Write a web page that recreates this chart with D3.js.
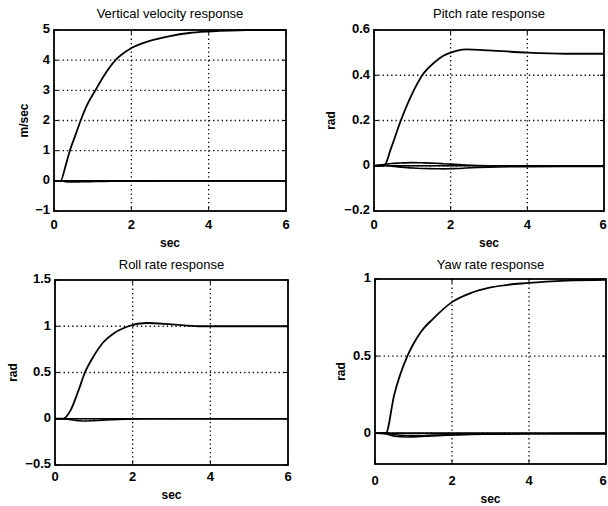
<!DOCTYPE html>
<html>
<head>
<meta charset="utf-8">
<script src="https://cdn.jsdelivr.net/npm/d3@7"></script>
<style>
  body { margin: 0; background: #fff; }
  svg { display: block; font-family: "Liberation Sans", Arial, sans-serif; }
  .title { font-size: 13px; }
  .tick-label { font-size: 13px; font-weight: bold; }
  .axis-label { font-size: 12px; font-weight: bold; }
</style>
</head>
<body>
<script>
///////////////////   Data   /////////////////

var xTicks = [0, 2, 4, 6],
    xTickLabels = ["0", "2", "4", "6"];

// Vertical velocity response (m/sec)
var vertTime  = [0, 0.17, 0.3, 0.41, 0.55, 0.69, 0.85, 1.07, 1.3, 1.59, 2, 2.5, 3, 3.5, 4, 5, 6],
    vertMain  = [0, 0, 0.5, 1, 1.5, 2, 2.5, 3, 3.5, 4, 4.4, 4.65, 4.8, 4.9, 4.95, 5, 5],
    vertSmall = [0, 0, -0.03, -0.04, -0.04, -0.03, -0.03, -0.02, -0.02, -0.01, -0.01, -0.01, 0, 0, 0, 0, 0],
    vertTicks = [-1, 0, 1, 2, 3, 4, 5],
    vertTickLabels = ["\u22121", "0", "1", "2", "3", "4", "5"];

// Pitch rate response (rad)
var pitchTime   = [0, 0.26, 0.45, 0.7, 1.0, 1.26, 1.6, 1.8, 2.0, 2.2, 2.4, 3, 4, 5, 6],
    pitchMain   = [0, 0, 0.08, 0.2, 0.32, 0.4, 0.46, 0.485, 0.5, 0.51, 0.514, 0.51, 0.5, 0.495, 0.495],
    pitchSmallA = [0, 0.005, 0.01, 0.012, 0.014, 0.013, 0.011, 0.009, 0.007, 0.005, 0.003, 0, 0, 0, 0],
    pitchSmallB = [0, 0.003, -0.002, -0.006, -0.01, -0.012, -0.013, -0.014, -0.013, -0.012, -0.01, -0.006, -0.004, -0.003, -0.003],
    pitchTicks = [-0.2, 0, 0.2, 0.4, 0.6],
    pitchTickLabels = ["\u22120.2", "0", "0.2", "0.4", "0.6"];

// Roll rate response (rad)
var rollTime  = [0, 0.21, 0.4, 0.6, 0.77, 1.0, 1.25, 1.5, 1.89, 2.36, 3, 3.7, 4, 5, 6],
    rollMain  = [0, 0, 0.09, 0.3, 0.5, 0.68, 0.83, 0.92, 1.0, 1.035, 1.02, 1.0, 1.0, 1.0, 1.0],
    rollSmall = [0, 0, -0.01, -0.02, -0.025, -0.02, -0.015, -0.01, -0.005, 0, 0, 0, 0, 0, 0],
    rollTicks = [-0.5, 0, 0.5, 1, 1.5],
    rollTickLabels = ["\u22120.5", "0", "0.5", "1", "1.5"];

// Yaw rate response (rad)
var yawTime   = [0, 0.28, 0.5, 0.84, 1.0, 1.2, 1.5, 2, 2.5, 3, 4, 5, 6],
    yawMain   = [0, 0, 0.25, 0.5, 0.58, 0.66, 0.74, 0.85, 0.91, 0.945, 0.975, 0.99, 0.995],
    yawSmallA = [0, -0.005, -0.02, -0.025, -0.024, -0.022, -0.018, -0.012, -0.008, -0.006, -0.004, -0.003, -0.003],
    yawSmallB = [0, 0, -0.01, -0.015, -0.015, -0.015, -0.012, -0.01, -0.007, -0.005, -0.004, -0.003, -0.003],
    yawTicks = [0, 0.5, 1],
    yawTickLabels = ["0", "0.5", "1"];

///////////////////   Layout   /////////////////

var width = 608, height = 506;

var panels = [
  { title: "Vertical velocity response", ylabel: "m/sec",
    box: {left: 54, right: 286, top: 30, bottom: 211}, yDomain: [-1, 5],
    ticks: vertTicks, tickLabels: vertTickLabels, ylabelX: 25, tickLabelGap: 15, titleY: 15,
    time: vertTime, series: [vertMain, vertSmall] },
  { title: "Pitch rate response", ylabel: "rad",
    box: {left: 374, right: 604, top: 30, bottom: 211}, yDomain: [-0.2, 0.6],
    ticks: pitchTicks, tickLabels: pitchTickLabels, ylabelX: 332, tickLabelGap: 15, titleY: 15,
    time: pitchTime, series: [pitchMain, pitchSmallA, pitchSmallB] },
  { title: "Roll rate response", ylabel: "rad",
    box: {left: 55, right: 288, top: 280, bottom: 465}, yDomain: [-0.5, 1.5],
    ticks: rollTicks, tickLabels: rollTickLabels, ylabelX: 14, tickLabelGap: 13, titleY: 266,
    time: rollTime, series: [rollMain, rollSmall] },
  { title: "Yaw rate response", ylabel: "rad",
    box: {left: 375, right: 606, top: 279, bottom: 464}, yDomain: [-0.2, 1],
    ticks: yawTicks, tickLabels: yawTickLabels, ylabelX: 342, tickLabelGap: 18, titleY: 266,
    time: yawTime, series: [yawMain, yawSmallA, yawSmallB] }
];

var svg = d3.select("body").append("svg")
    .attr("width", width)
    .attr("height", height);

panels.forEach(drawPanel);

function drawPanel(p) {
  var b = p.box;
  var x = d3.scaleLinear().domain([0, 6]).range([b.left, b.right]);
  var y = d3.scaleLinear().domain(p.yDomain).range([b.bottom, b.top]);
  var g = svg.append("g");

  // dotted grid
  g.selectAll(".vgrid").data(xTicks.slice(1, -1)).enter().append("line")
    .attr("x1", x).attr("x2", x).attr("y1", b.top).attr("y2", b.bottom)
    .attr("stroke", "#000").attr("stroke-width", 1.3).attr("stroke-dasharray", "1.3,3");
  g.selectAll(".hgrid").data(p.ticks.filter(function(t) { return t > p.yDomain[0] && t < p.yDomain[1]; }))
    .enter().append("line")
    .attr("x1", b.left).attr("x2", b.right).attr("y1", y).attr("y2", y)
    .attr("stroke", "#000").attr("stroke-width", 1.3).attr("stroke-dasharray", "1.3,3");

  // inward ticks on all four sides
  var tl = 4;
  xTicks.forEach(function(t) {
    g.append("line").attr("x1", x(t)).attr("x2", x(t)).attr("y1", b.bottom).attr("y2", b.bottom - tl).attr("stroke", "#000");
    g.append("line").attr("x1", x(t)).attr("x2", x(t)).attr("y1", b.top).attr("y2", b.top + tl).attr("stroke", "#000");
  });
  p.ticks.forEach(function(t) {
    g.append("line").attr("x1", b.left).attr("x2", b.left + tl).attr("y1", y(t)).attr("y2", y(t)).attr("stroke", "#000");
    g.append("line").attr("x1", b.right).attr("x2", b.right - tl).attr("y1", y(t)).attr("y2", y(t)).attr("stroke", "#000");
  });

  // curves
  var line = d3.line()
    .x(function(d, i) { return x(p.time[i]); })
    .y(function(d) { return y(d); })
    .curve(d3.curveMonotoneX);
  p.series.forEach(function(s, k) {
    g.append("path").datum(s)
      .attr("d", line)
      .attr("fill", "none")
      .attr("stroke", "#000")
      .attr("stroke-width", k == 0 ? 1.8 : 1.6);
  });
  // zero line of the flat responses
  g.append("line").attr("x1", x(0)).attr("x2", x(6)).attr("y1", y(0)).attr("y2", y(0))
    .attr("stroke", "#000").attr("stroke-width", 1.6);

  // box
  g.append("rect").attr("x", b.left).attr("y", b.top)
    .attr("width", b.right - b.left).attr("height", b.bottom - b.top)
    .attr("fill", "none").attr("stroke", "#000").attr("stroke-width", 1.8);

  // tick labels (keep the last x label inside the page)
  g.selectAll(".xl").data(xTicks).enter().append("text")
    .attr("class", "tick-label")
    .attr("x", function(d) { return Math.min(x(d), width - 5); })
    .attr("y", b.bottom + p.tickLabelGap)
    .attr("text-anchor", "middle").attr("dominant-baseline", "middle")
    .text(function(d, i) { return xTickLabels[i]; });
  g.selectAll(".yl").data(p.ticks).enter().append("text")
    .attr("class", "tick-label")
    .attr("x", b.left - 4).attr("y", y)
    .attr("text-anchor", "end").attr("dominant-baseline", "middle")
    .text(function(d, i) { return p.tickLabels[i]; });

  // titles and axis labels
  g.append("text").attr("class", "title")
    .attr("x", (b.left + b.right) / 2).attr("y", p.titleY)
    .attr("text-anchor", "middle").attr("dominant-baseline", "middle")
    .text(p.title);
  g.append("text").attr("class", "axis-label")
    .attr("x", (b.left + b.right) / 2).attr("y", b.bottom + p.tickLabelGap + 18)
    .attr("text-anchor", "middle").attr("dominant-baseline", "middle")
    .text("sec");
  g.append("text").attr("class", "axis-label")
    .attr("transform", "translate(" + p.ylabelX + "," + ((b.top + b.bottom) / 2) + ") rotate(-90)")
    .attr("text-anchor", "middle").attr("dominant-baseline", "middle")
    .text(p.ylabel);
}
</script>
</body>
</html>
